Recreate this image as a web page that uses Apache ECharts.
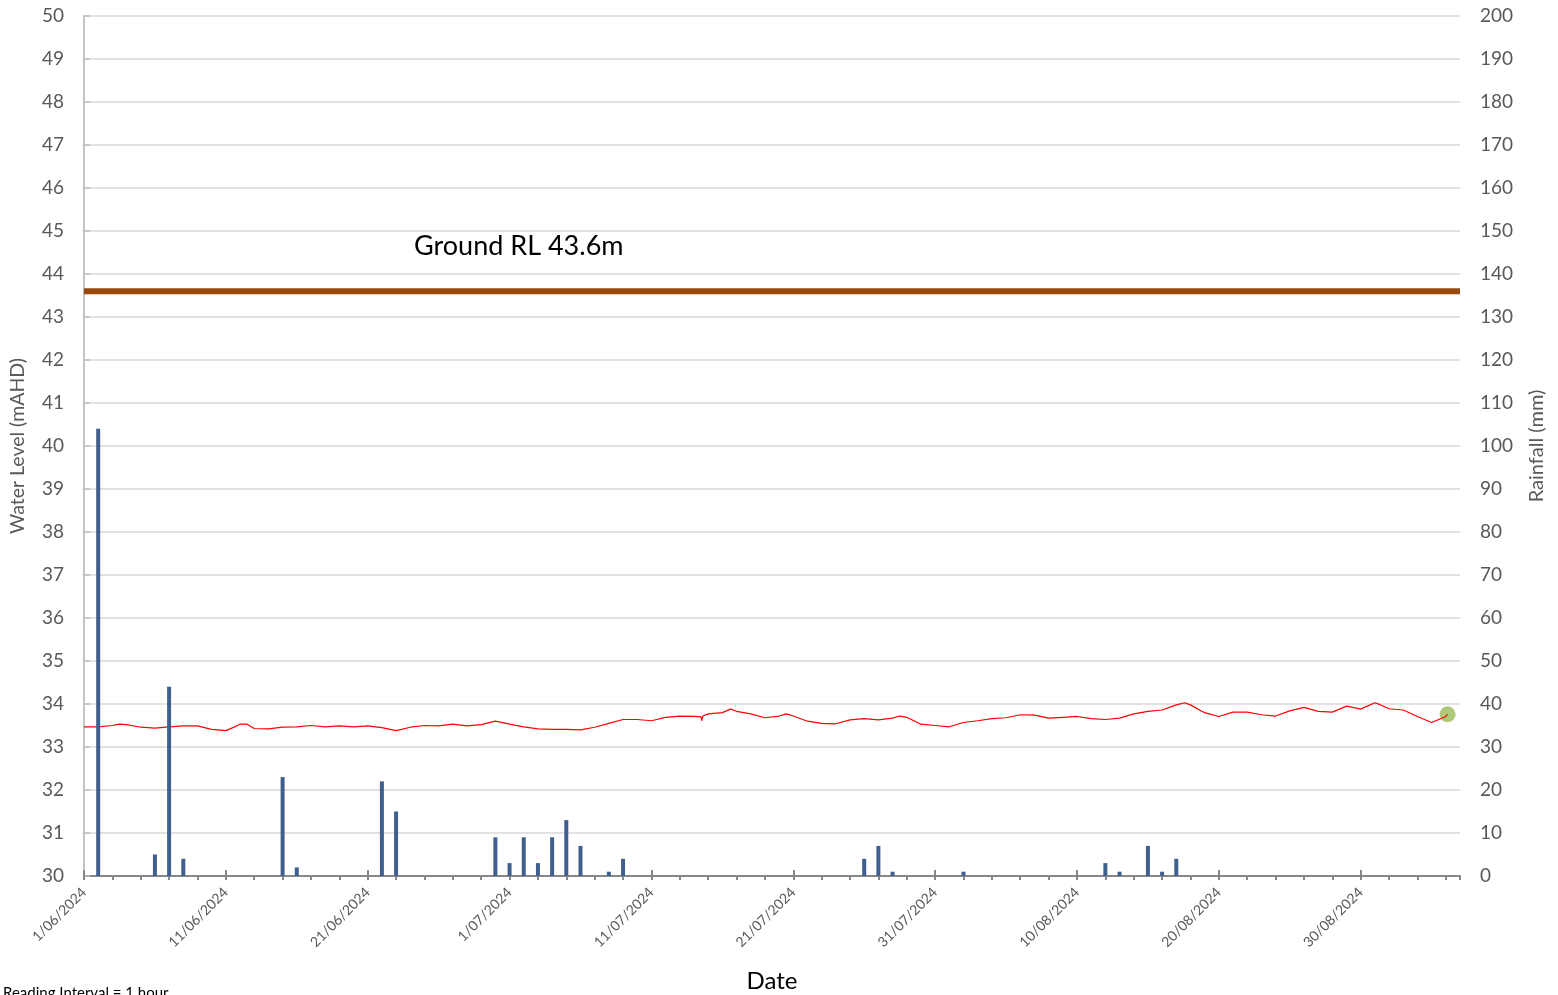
<!DOCTYPE html>
<html>
<head>
<meta charset="utf-8">
<script src="https://cdn.jsdelivr.net/npm/echarts@6/dist/echarts.min.js"></script>
<style>
  html, body { margin: 0; padding: 0; background: #fff; }
  #chart { width: 1558px; height: 995px; }
</style>
</head>
<body>
<div id="chart"></div>
<script>
// water level readings (mAHD)
const levelTimes = [
  '2024-06-01T00:00', '2024-06-02T00:00', '2024-06-03T00:00', '2024-06-03T12:00', '2024-06-04T00:00',
  '2024-06-05T00:00', '2024-06-06T00:00', '2024-06-07T00:00', '2024-06-08T00:00', '2024-06-09T00:00',
  '2024-06-10T00:00', '2024-06-11T00:00', '2024-06-11T12:00', '2024-06-12T00:00', '2024-06-12T12:00',
  '2024-06-13T00:00', '2024-06-14T00:00', '2024-06-15T00:00', '2024-06-16T00:00', '2024-06-17T00:00',
  '2024-06-18T00:00', '2024-06-19T00:00', '2024-06-20T00:00', '2024-06-21T00:00', '2024-06-22T00:00',
  '2024-06-23T00:00', '2024-06-24T00:00', '2024-06-25T00:00', '2024-06-26T00:00', '2024-06-27T00:00',
  '2024-06-28T00:00', '2024-06-29T00:00', '2024-06-30T00:00', '2024-07-01T00:00', '2024-07-02T00:00',
  '2024-07-03T00:00', '2024-07-04T00:00', '2024-07-05T00:00', '2024-07-06T00:00', '2024-07-07T00:00',
  '2024-07-08T00:00', '2024-07-09T00:00', '2024-07-10T00:00', '2024-07-11T00:00', '2024-07-12T00:00',
  '2024-07-13T00:00', '2024-07-14T00:00', '2024-07-14T12:00', '2024-07-14T13:00', '2024-07-14T15:00',
  '2024-07-15T00:00', '2024-07-16T00:00', '2024-07-16T14:00', '2024-07-17T00:00', '2024-07-18T00:00',
  '2024-07-19T00:00', '2024-07-20T00:00', '2024-07-20T12:00', '2024-07-21T00:00', '2024-07-22T00:00',
  '2024-07-23T00:00', '2024-07-24T00:00', '2024-07-25T00:00', '2024-07-26T00:00', '2024-07-27T00:00',
  '2024-07-28T00:00', '2024-07-28T12:00', '2024-07-29T00:00', '2024-07-30T00:00', '2024-07-31T00:00',
  '2024-08-01T00:00', '2024-08-02T00:00', '2024-08-03T00:00', '2024-08-04T00:00', '2024-08-05T00:00',
  '2024-08-06T00:00', '2024-08-07T00:00', '2024-08-08T00:00', '2024-08-09T00:00', '2024-08-10T00:00',
  '2024-08-11T00:00', '2024-08-12T00:00', '2024-08-13T00:00', '2024-08-14T00:00', '2024-08-15T00:00',
  '2024-08-16T00:00', '2024-08-17T00:00', '2024-08-17T14:00', '2024-08-18T00:00', '2024-08-18T19:00',
  '2024-08-19T00:00', '2024-08-20T00:00', '2024-08-21T00:00', '2024-08-22T00:00', '2024-08-23T00:00',
  '2024-08-24T00:00', '2024-08-25T00:00', '2024-08-26T00:00', '2024-08-27T00:00', '2024-08-28T00:00',
  '2024-08-29T00:00', '2024-08-30T00:00', '2024-08-31T00:00', '2024-08-31T08:00', '2024-09-01T00:00',
  '2024-09-02T00:00', '2024-09-03T00:00', '2024-09-04T00:00', '2024-09-05T00:00', '2024-09-05T03:00'
];
const levelValues = [
  33.47, 33.47, 33.50, 33.53, 33.52,
  33.46, 33.44, 33.47, 33.49, 33.49,
  33.41, 33.38, 33.45, 33.53, 33.53,
  33.43, 33.42, 33.46, 33.47, 33.50,
  33.47, 33.49, 33.47, 33.49, 33.45,
  33.38, 33.46, 33.50, 33.49, 33.53,
  33.49, 33.52, 33.60, 33.53, 33.47,
  33.42, 33.41, 33.41, 33.40, 33.46,
  33.55, 33.64, 33.64, 33.61, 33.69,
  33.72, 33.71, 33.70, 33.61, 33.72,
  33.77, 33.80, 33.88, 33.83, 33.77,
  33.68, 33.72, 33.77, 33.72, 33.60,
  33.55, 33.54, 33.63, 33.66, 33.63,
  33.67, 33.72, 33.69, 33.53, 33.50,
  33.47, 33.57, 33.61, 33.66, 33.68,
  33.75, 33.74, 33.67, 33.69, 33.71,
  33.66, 33.64, 33.67, 33.77, 33.83,
  33.86, 33.98, 34.03, 33.98, 33.83,
  33.80, 33.71, 33.81, 33.81, 33.75,
  33.72, 33.84, 33.92, 33.83, 33.81,
  33.95, 33.88, 34.03, 33.99, 33.89,
  33.86, 33.71, 33.57, 33.71, 33.76
];

// daily rainfall (mm)
const rainDates = [
  '2024-06-02', '2024-06-06', '2024-06-07', '2024-06-08', '2024-06-15', '2024-06-16',
  '2024-06-22', '2024-06-23', '2024-06-30', '2024-07-01', '2024-07-02', '2024-07-03',
  '2024-07-04', '2024-07-05', '2024-07-06', '2024-07-08', '2024-07-09', '2024-07-26',
  '2024-07-27', '2024-07-28', '2024-08-02', '2024-08-12', '2024-08-13', '2024-08-15',
  '2024-08-16', '2024-08-17'
];
const rainValues = [
  104, 5, 44, 4, 23, 2,
  22, 15, 9, 3, 9, 3,
  9, 13, 7, 1, 4, 4,
  7, 1, 1, 3, 1, 7,
  1, 4
];

const groundRL = 43.6;
const startDate = '2024-06-01T00:00';
const endDate = '2024-09-06T00:00';

// x axis runs in days from 1/06/2024
const t0 = new Date(startDate).getTime();
const toDays = s => (new Date(s.length === 10 ? s + 'T00:00' : s).getTime() - t0) / 86400000;
const xMax = toDays(endDate);

const levelData = levelTimes.map((t, i) => [toDays(t), levelValues[i]]);
const rainData = rainDates.map((t, i) => [toDays(t), rainValues[i]]);
const lastLevel = levelData[levelData.length - 1];

const dayLabel = v => {
  const d = new Date(t0 + v * 86400000);
  return d.getDate() + '/' + String(d.getMonth() + 1).padStart(2, '0') + '/' + d.getFullYear();
};

const FONT = 'Lato, "Liberation Sans", sans-serif';
const GREY = '#595959';

const chart = echarts.init(document.getElementById('chart'));
chart.setOption({
  animation: false,
  grid: { left: 84, right: 98, top: 16, bottom: 119, outerBoundsMode: 'none' },
  xAxis: [
    {
      type: 'value',
      min: 0,
      max: xMax,
      interval: 10,
      name: 'Date',
      nameLocation: 'middle',
      nameGap: 93,
      nameTextStyle: { color: '#000', fontSize: 24, fontFamily: FONT },
      axisLine: { lineStyle: { color: '#878787', width: 2 } },
      axisTick: { inside: true, length: 6, lineStyle: { color: '#878787', width: 2 } },
      axisLabel: {
        rotate: 45,
        margin: 14,
        color: GREY,
        fontSize: 14,
        fontFamily: FONT,
        showMaxLabel: false,
        formatter: v => (v % 10 === 0 ? dayLabel(v) : '')
      },
      splitLine: { show: false }
    },
    {
      // minor ticks every 2 days
      type: 'value',
      position: 'bottom',
      min: 0,
      max: xMax,
      interval: 2,
      axisLine: { show: false },
      axisTick: { length: 4, lineStyle: { color: '#878787', width: 2 } },
      axisLabel: { show: false },
      splitLine: { show: false }
    }
  ],
  yAxis: [
    {
      type: 'value',
      min: 30,
      max: 50,
      interval: 1,
      name: 'Water Level (mAHD)',
      nameLocation: 'middle',
      nameGap: 56,
      nameTextStyle: { color: GREY, fontSize: 19.5, fontFamily: FONT },
      axisLine: { show: true, lineStyle: { color: '#c0c0c0', width: 1.5 } },
      axisTick: { show: false },
      axisLabel: { color: GREY, fontSize: 19, fontFamily: FONT, margin: 20 },
      splitLine: { lineStyle: { color: '#d9d9d9', width: 1.5 } }
    },
    {
      type: 'value',
      position: 'right',
      min: 0,
      max: 200,
      interval: 10,
      name: 'Rainfall (mm)',
      nameLocation: 'middle',
      nameGap: 67,
      nameTextStyle: { color: GREY, fontSize: 20, fontFamily: FONT },
      axisLine: { show: true, lineStyle: { color: '#c0c0c0', width: 1.5 } },
      axisTick: { show: true, length: 6, lineStyle: { color: '#c0c0c0', width: 1.5 } },
      axisLabel: { color: GREY, fontSize: 19, fontFamily: FONT, margin: 20 },
      splitLine: { show: false }
    }
  ],
  series: [
    {
      name: 'Ground RL',
      type: 'line',
      xAxisIndex: 0,
      yAxisIndex: 0,
      data: [[0, groundRL], [xMax, groundRL]],
      symbol: 'none',
      lineStyle: { color: '#974A0B', width: 6 },
      z: 2
    },
    {
      name: 'Latest',
      type: 'scatter',
      xAxisIndex: 0,
      yAxisIndex: 0,
      data: [lastLevel],
      symbolSize: 16,
      itemStyle: { color: '#9BBB59' },
      z: 2
    },
    {
      name: 'Water Level',
      type: 'line',
      xAxisIndex: 0,
      yAxisIndex: 0,
      data: levelData,
      symbol: 'none',
      lineStyle: { color: '#ff0000', width: 1.2 },
      z: 3
    },
    {
      name: 'Rainfall',
      type: 'bar',
      xAxisIndex: 0,
      yAxisIndex: 1,
      data: rainData,
      barWidth: 4,
      itemStyle: { color: '#3F5F8E' },
      z: 4
    }
  ],
  graphic: [
    {
      type: 'text',
      left: 414,
      top: 233,
      style: { text: 'Ground RL ' + groundRL + 'm', fill: '#000', fontSize: 27, fontFamily: FONT }
    },
    {
      type: 'text',
      left: 3,
      top: 986,
      style: { text: 'Reading Interval = 1 hour', fill: '#000', fontSize: 15, fontFamily: FONT }
    }
  ]
});
</script>
</body>
</html>
